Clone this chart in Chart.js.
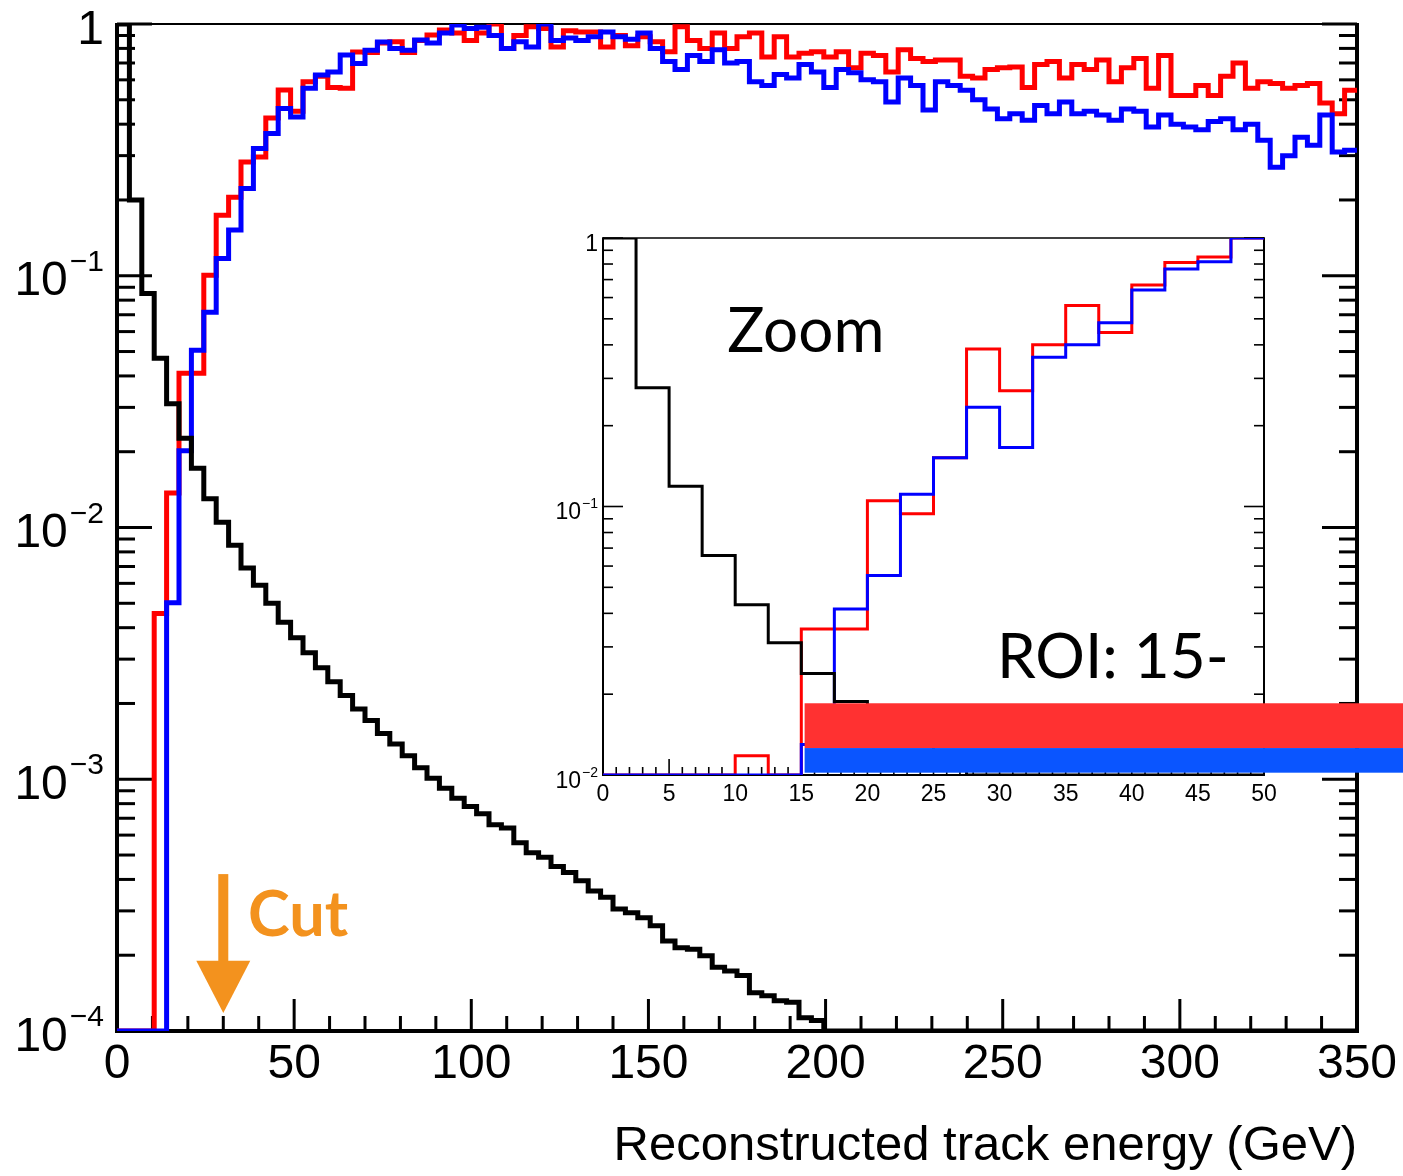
<!DOCTYPE html>
<html>
<head>
<meta charset="utf-8">
<title>Reconstructed track energy</title>
<script src="https://cdn.jsdelivr.net/npm/chart.js@4.4.1/dist/chart.umd.min.js"></script>
<style>
	html, body { margin: 0; padding: 0; background: #fff; overflow: hidden; }
	#graficoEnergia { position: absolute; left: 0; top: 0; }
	#graficoZoom { position: absolute; left: 540px; top: 225px; }
</style>
</head>
<body>
<canvas id="graficoEnergia" width="1403" height="1176" style="width:1403px;height:1176px"></canvas>
<canvas id="graficoZoom" width="863" height="600" style="width:863px;height:600px"></canvas>
<script>
/* main histogram: 100 bins of 3.5 GeV, 0 - 350 GeV */
var binWidth = 3.5;
var xTickLabels = [0, 50, 100, 150, 200, 250, 300, 350];
var yDecades = [0, -1, -2, -3, -4];

var blackValues = [
	1.0, 0.20, 0.085, 0.047, 0.031, 0.0226, 0.0172, 0.0130, 0.0105, 0.0085,
	0.0069, 0.0059, 0.0050, 0.0042, 0.00365, 0.00318, 0.00277, 0.00244, 0.00215, 0.0019,
	0.00171, 0.00152, 0.00138, 0.00124, 0.00111, 0.00101, 0.00092, 0.00084, 0.00078, 0.00073,
	0.00066, 0.00064, 0.00056, 0.00051, 0.00049, 0.00045, 0.000426, 0.000395, 0.00036, 0.00034,
	0.000305, 0.000295, 0.000282, 0.000262, 0.000228, 0.000214, 0.000211, 0.000199, 0.000179, 0.000173,
	0.000166, 0.000142, 0.000138, 0.000132, 0.00013, 0.000113, 0.00011, 0, 0, 0,
	0, 0, 0, 0, 0, 0, 0, 0, 0, 0,
	0, 0, 0, 0, 0, 0, 0, 0, 0, 0,
	0, 0, 0, 0, 0, 0, 0, 0, 0, 0,
	0, 0, 0, 0, 0, 0, 0, 0, 0, 0
];

var redValues = [
	0, 0, 0, 0.00455, 0.0137, 0.041, 0.041, 0.1005, 0.174, 0.205,
	0.283, 0.296, 0.423, 0.547, 0.45, 0.59, 0.62, 0.56, 0.555, 0.774,
	0.77, 0.84, 0.85, 0.77, 0.86, 0.904, 0.946, 0.92, 0.86, 0.92,
	1.0, 0.80, 0.90, 0.975, 0.96, 0.81, 0.94, 0.93, 0.93, 0.81,
	0.90, 0.82, 0.89, 0.85, 0.775, 0.975, 0.86, 0.80, 0.92, 0.80,
	0.89, 0.92, 0.74, 0.89, 0.74, 0.765, 0.775, 0.74, 0.775, 0.67,
	0.765, 0.75, 0.645, 0.79, 0.73, 0.71, 0.72, 0.72, 0.62, 0.61,
	0.66, 0.67, 0.675, 0.56, 0.69, 0.71, 0.61, 0.69, 0.66, 0.72,
	0.59, 0.67, 0.73, 0.555, 0.75, 0.52, 0.52, 0.57, 0.52, 0.62,
	0.70, 0.555, 0.59, 0.58, 0.555, 0.57, 0.58, 0.485, 0.44, 0.545
];

var blueValues = [
	0, 0, 0, 0, 0.00503, 0.0202, 0.0506, 0.0716, 0.117, 0.152,
	0.222, 0.320, 0.367, 0.462, 0.427, 0.555, 0.627, 0.645, 0.753, 0.697,
	0.787, 0.849, 0.80, 0.787, 0.863, 0.84, 0.92, 0.99, 0.96, 0.97,
	0.90, 0.80, 0.85, 0.81, 1.0, 0.86, 0.88, 0.86, 0.89, 0.93,
	0.89, 0.87, 0.92, 0.80, 0.71, 0.66, 0.75, 0.71, 0.79, 0.70,
	0.71, 0.59, 0.57, 0.63, 0.61, 0.69, 0.645, 0.56, 0.66, 0.64,
	0.60, 0.59, 0.49, 0.61, 0.57, 0.455, 0.59, 0.57, 0.545, 0.50,
	0.46, 0.42, 0.44, 0.415, 0.475, 0.44, 0.49, 0.44, 0.45, 0.435,
	0.415, 0.46, 0.45, 0.39, 0.435, 0.40, 0.39, 0.38, 0.41, 0.42,
	0.38, 0.40, 0.345, 0.27, 0.30, 0.355, 0.33, 0.435, 0.31, 0.315
];

/* inset: 20 bins of 2.5 GeV, 0 - 50 GeV */
var zoomBinWidth = 2.5;
var zoomXTickLabels = [0, 5, 10, 15, 20, 25, 30, 35, 40, 45, 50];
var zoomDecades = [0, -1, -2];

var zoomBlack = [1.0, 0.277, 0.119, 0.0657, 0.0431, 0.0311, 0.0239, 0.0188, 0.016, 0.0135,
	0.0115, 0, 0, 0, 0, 0, 0, 0, 0, 0];
var zoomRed = [0, 0, 0, 0, 0.0118, 0, 0.035, 0.035, 0.105, 0.094,
	0.152, 0.386, 0.27, 0.40, 0.56, 0.445, 0.668, 0.81, 0.85, 1.0];
var zoomBlue = [0, 0, 0, 0, 0, 0, 0.013, 0.0415, 0.0553, 0.111,
	0.152, 0.234, 0.166, 0.36, 0.40, 0.483, 0.64, 0.767, 0.816, 1.0];

var FONTE = '"Liberation Sans", Arial, sans-serif';

/* empty bins are drawn on the bottom of the frame, like ROOT does */
function pontosHistograma(valores, largura, piso) {
	var pontos = [];
	for (var i = 0; i < valores.length; i++) {
		pontos.push({ x: i * largura, y: Math.max(valores[i], piso) });
	}
	pontos.push({ x: valores.length * largura, y: Math.max(valores[valores.length - 1], piso) });
	return pontos;
}

function serie(valores, largura, piso, cor, espessura) {
	return {
		data: pontosHistograma(valores, largura, piso),
		borderColor: cor,
		borderWidth: espessura,
		stepped: 'before',
		fill: false,
		pointRadius: 0,
		borderCapStyle: 'butt',
		borderJoinStyle: 'miter'
	};
}

function linha(ctx, x1, y1, x2, y2) {
	ctx.beginPath();
	ctx.moveTo(x1, y1);
	ctx.lineTo(x2, y2);
	ctx.stroke();
}

/* "10" with a superscript exponent, right aligned */
function rotuloPotencia(ctx, exp, xDir, py, base, sup, dyBase, dySup, gap) {
	ctx.fillStyle = '#000';
	ctx.textAlign = 'right';
	ctx.textBaseline = 'alphabetic';
	if (exp === 0) {
		ctx.font = base + 'px ' + FONTE;
		ctx.fillText('1', xDir, py + dyBase);
		return;
	}
	var s = '\u2212' + (-exp);
	ctx.font = sup + 'px ' + FONTE;
	var w = ctx.measureText(s).width;
	ctx.fillText(s, xDir, py + dySup);
	ctx.font = base + 'px ' + FONTE;
	ctx.fillText('10', xDir - w - gap, py + dyBase);
}

/* ticks inside the frame on left, bottom and right */
function molduraLog(ctx, area, xs, ys, cfg) {
	ctx.save();
	ctx.strokeStyle = '#000';
	ctx.lineCap = 'butt';
	ctx.lineWidth = cfg.tickWidth;
	for (var v = cfg.xMin; v <= cfg.xMax + 1e-9; v += cfg.xMinor) {
		var px = xs.getPixelForValue(v);
		var major = Math.abs(v / cfg.xMajor - Math.round(v / cfg.xMajor)) < 1e-6;
		linha(ctx, px, area.bottom, px, area.bottom - (major ? cfg.xMajorLen : cfg.xMinorLen));
	}
	for (var d = cfg.decMin; d <= 0; d++) {
		for (var m = 1; m <= 9; m++) {
			var val = m * Math.pow(10, d);
			if (val > 1.0001) break;
			var py = ys.getPixelForValue(val);
			var len = m === 1 ? cfg.yMajorLen : cfg.yMinorLen;
			linha(ctx, area.left, py, area.left + len, py);
			linha(ctx, area.right, py, area.right - len, py);
		}
	}
	ctx.lineWidth = cfg.topWidth;
	linha(ctx, area.left, area.top, area.right, area.top);
	ctx.lineWidth = cfg.frameWidth;
	linha(ctx, area.left, area.top - cfg.topWidth / 2, area.left, area.bottom + cfg.frameWidth / 2);
	linha(ctx, area.right, area.top - cfg.topWidth / 2, area.right, area.bottom + cfg.frameWidth / 2);
	linha(ctx, area.left - cfg.frameWidth / 2, area.bottom, area.right + cfg.frameWidth / 2, area.bottom);
	ctx.restore();
}

var molduraPrincipal = {
	id: 'molduraPrincipal',
	beforeDatasetsDraw: function(chart) {
		molduraLog(chart.ctx, chart.chartArea, chart.scales.x, chart.scales.y, {
			xMin: 0, xMax: 350, xMinor: 10, xMajor: 50, xMajorLen: 32, xMinorLen: 15,
			decMin: -4, yMajorLen: 35, yMinorLen: 18,
			tickWidth: 3, frameWidth: 4, topWidth: 2
		});
	},
	afterDraw: function(chart) {
		var ctx = chart.ctx, xs = chart.scales.x, ys = chart.scales.y;
		var xRot = chart.chartArea.left - 13;
		ctx.save();
		yDecades.forEach(function(d) {
			rotuloPotencia(ctx, d, xRot, ys.getPixelForValue(Math.pow(10, d)), 48, 30, 19.5, -5, 2);
		});
		/* cut arrow at 30 GeV */
		var cx = xs.getPixelForValue(30);
		var yTopo = ys.getPixelForValue(4.2e-4);
		var yCabeca = ys.getPixelForValue(1.9e-4);
		var yPonta = ys.getPixelForValue(1.18e-4);
		ctx.fillStyle = '#F3921E';
		ctx.fillRect(cx - 5, yTopo, 10, yCabeca - yTopo + 1);
		ctx.beginPath();
		ctx.moveTo(cx - 27, yCabeca);
		ctx.lineTo(cx + 27, yCabeca);
		ctx.lineTo(cx, yPonta);
		ctx.closePath();
		ctx.fill();
		ctx.font = 'bold 63px Lato, sans-serif';
		ctx.textAlign = 'left';
		ctx.textBaseline = 'alphabetic';
		ctx.fillText('Cut', xs.getPixelForValue(37), ys.getPixelForValue(2.39e-4));
		ctx.restore();
	}
};

var molduraZoom = {
	id: 'molduraZoom',
	beforeDatasetsDraw: function(chart) {
		molduraLog(chart.ctx, chart.chartArea, chart.scales.x, chart.scales.y, {
			xMin: 0, xMax: 50, xMinor: 1, xMajor: 5, xMajorLen: 16, xMinorLen: 8,
			decMin: -2, yMajorLen: 20, yMinorLen: 10,
			tickWidth: 1.6, frameWidth: 2, topWidth: 1.5
		});
	},
	afterDraw: function(chart) {
		var ctx = chart.ctx, xs = chart.scales.x, ys = chart.scales.y;
		var xRot = chart.chartArea.left - 5;
		ctx.save();
		zoomDecades.forEach(function(d) {
			rotuloPotencia(ctx, d, xRot, ys.getPixelForValue(Math.pow(10, d)), 23, 14, 12.5, 1.5, 1);
		});
		ctx.fillStyle = '#000';
		ctx.textAlign = 'left';
		ctx.textBaseline = 'alphabetic';
		ctx.font = '62px Lato, sans-serif';
		ctx.fillText('Zoom', xs.getPixelForValue(9.4), ys.getPixelForValue(0.376));
		ctx.fillText('ROI: 15-', xs.getPixelForValue(29.8), ys.getPixelForValue(0.023));
		/* coloured bands starting at 15 GeV, running off the right edge */
		var x0 = xs.getPixelForValue(15.25);
		var yVermTopo = ys.getPixelForValue(0.0185);
		var yMeio = ys.getPixelForValue(0.0126);
		var yBase = ys.getPixelForValue(0.0102);
		ctx.fillStyle = '#FF3131';
		ctx.fillRect(x0, yVermTopo, chart.width - x0, yMeio - yVermTopo);
		ctx.fillStyle = '#0A55FF';
		ctx.fillRect(x0, yMeio, chart.width - x0, yBase - yMeio);
		ctx.restore();
	}
};

function opcoesBase(cfg) {
	return {
		responsive: false,
		animation: false,
		devicePixelRatio: 1,
		layout: { padding: { top: cfg.top, right: cfg.right, left: 0, bottom: 0 } },
		plugins: { legend: { display: false }, tooltip: { enabled: false } },
		scales: {
			x: {
				type: 'linear',
				min: 0,
				max: cfg.xMax,
				grid: { display: false, drawTicks: false },
				border: { display: false },
				afterBuildTicks: function(s) {
					s.ticks = cfg.xLabels.map(function(v) { return { value: v }; });
				},
				ticks: {
					autoSkip: false,
					maxRotation: 0,
					color: '#000',
					padding: cfg.tickPad,
					font: { family: FONTE, size: cfg.tickSize }
				},
				title: cfg.title ? {
					display: true,
					text: cfg.title,
					align: 'end',
					color: '#000',
					font: { family: FONTE, size: 49 },
					padding: { top: 0, bottom: 0 }
				} : { display: false },
				afterFit: function(s) { s.height = cfg.xHeight; }
			},
			y: {
				type: 'logarithmic',
				min: cfg.yMin,
				max: 1,
				grid: { display: false },
				border: { display: false },
				ticks: { display: false },
				afterFit: function(s) { s.width = cfg.yWidth; }
			}
		}
	};
}

var graficoEnergia = new Chart(document.getElementById('graficoEnergia').getContext('2d'), {
	type: 'line',
	data: {
		datasets: [
			serie(blackValues, binWidth, 1e-4, '#000000', 5),
			serie(blueValues, binWidth, 1e-4, '#0000FF', 5),
			serie(redValues, binWidth, 1e-4, '#FF0000', 5)
		]
	},
	options: opcoesBase({
		top: 24, right: 46, xMax: 350, xLabels: xTickLabels, tickPad: 5, tickSize: 48,
		title: 'Reconstructed track energy (GeV)', xHeight: 145, yMin: 1e-4, yWidth: 117
	}),
	plugins: [molduraPrincipal]
});

var graficoZoom = new Chart(document.getElementById('graficoZoom').getContext('2d'), {
	type: 'line',
	data: {
		datasets: [
			serie(zoomBlack, zoomBinWidth, 0.01, '#000000', 3),
			serie(zoomBlue, zoomBinWidth, 0.01, '#0000FF', 3),
			serie(zoomRed, zoomBinWidth, 0.01, '#FF0000', 3)
		]
	},
	options: opcoesBase({
		top: 13, right: 139, xMax: 50, xLabels: zoomXTickLabels, tickPad: 6, tickSize: 23,
		title: null, xHeight: 50, yMin: 0.01, yWidth: 63
	}),
	plugins: [molduraZoom]
});
</script>
</body>
</html>
